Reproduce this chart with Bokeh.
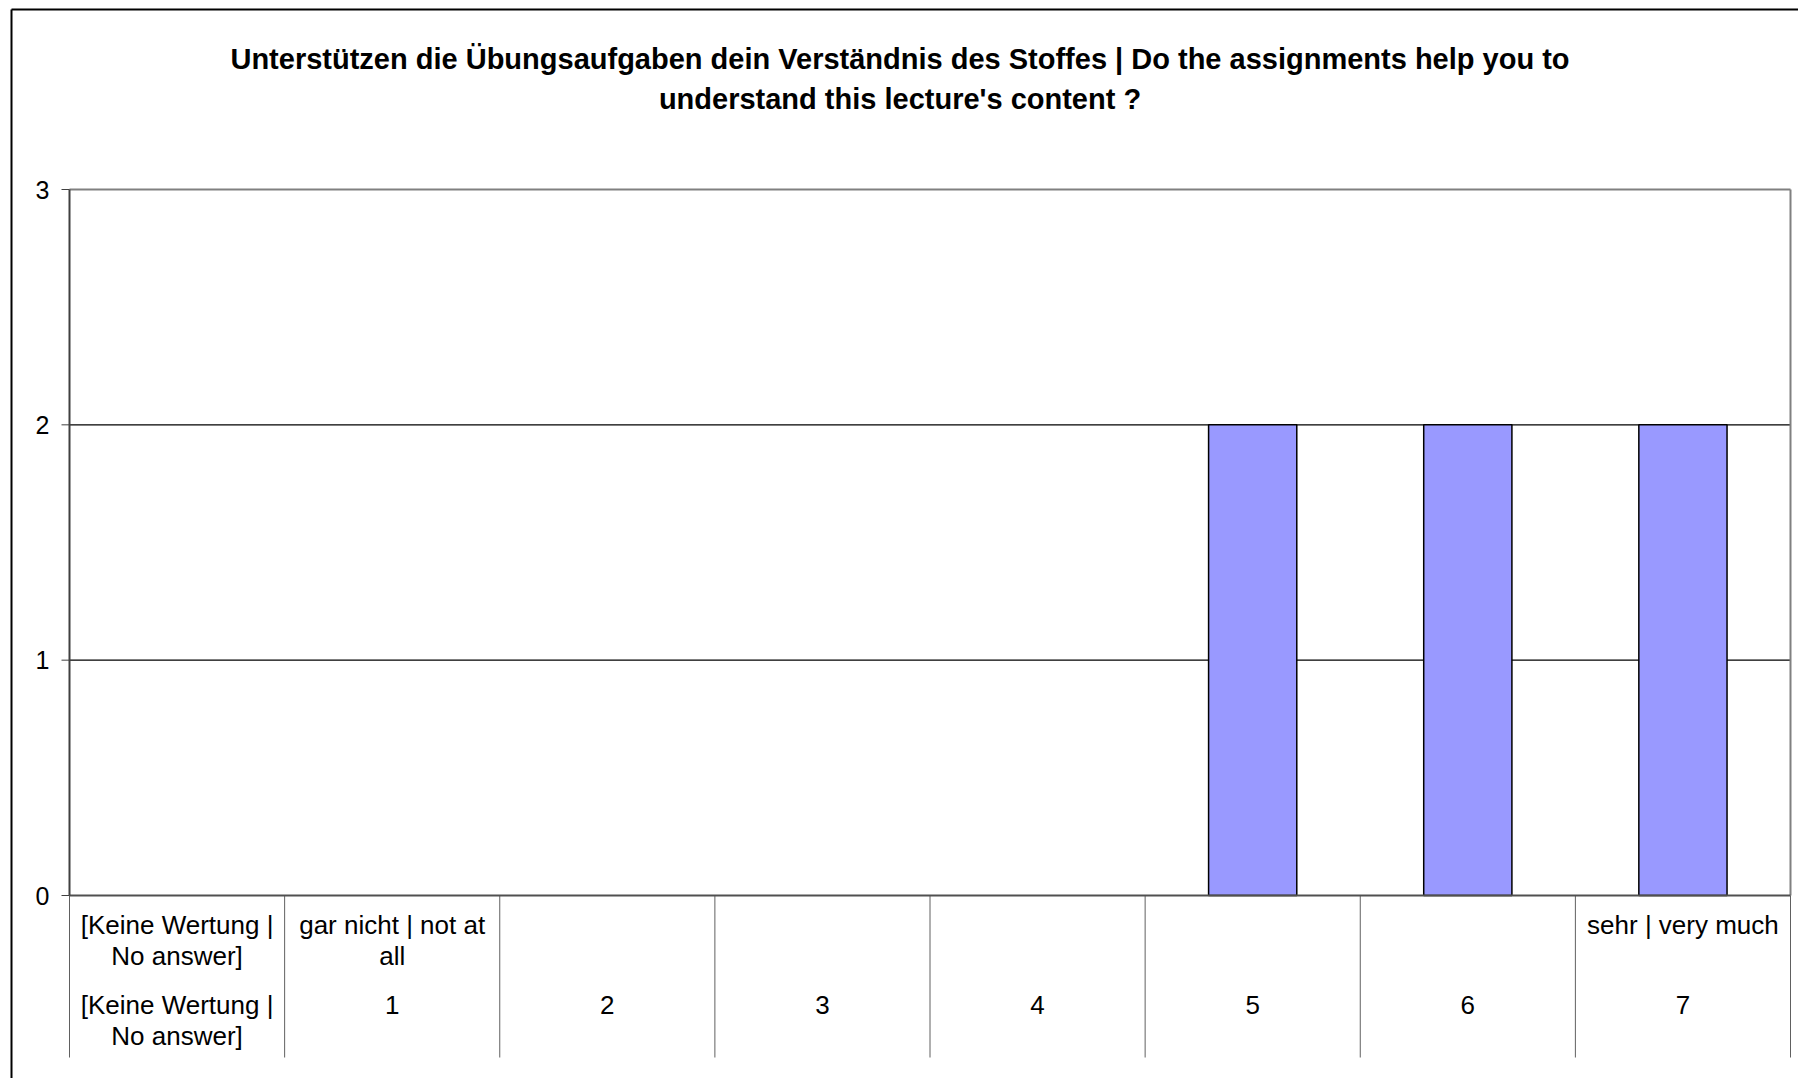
from bokeh.plotting import figure
from bokeh.models import Range1d
from bokeh.core.properties import value
from bokeh.embed import file_html
from bokeh.resources import INLINE

# ---- data ----
title_lines = [
    "Unterstützen die Übungsaufgaben dein Verständnis des Stoffes | Do the assignments help you to",
    "understand this lecture's content ?",
]
categories = ["[Keine Wertung | No answer]", "1", "2", "3", "4", "5", "6", "7"]
counts = [0, 0, 0, 0, 0, 2, 2, 2]
scale_labels = ["[Keine Wertung |\nNo answer]", "gar nicht | not at\nall", "", "", "", "", "", "sehr | very much"]
value_labels = ["[Keine Wertung |\nNo answer]", "1", "2", "3", "4", "5", "6", "7"]
y_ticks = [0, 1, 2, 3]

# ---- layout (canvas pixels) ----
W, H = 1798, 1078
PL, PR = 69, 1790        # plot area left / right
PT, P0 = 189, 895        # pixel of y max / y = 0
YMAX = 3
N = len(categories)
ppu_x = (PR - PL) / N
ppu_y = (P0 - PT) / YMAX


def X(c):
    return (c - PL) / ppu_x


def Y(c):
    return YMAX - (c - PT) / ppu_y


FONT = value("Liberation Sans")

p = figure(width=W, height=H, output_backend="svg", toolbar_location=None,
           x_range=Range1d(X(0), X(W)), y_range=Range1d(Y(H), Y(0)),
           x_axis_location=None, y_axis_location=None,
           min_border=0, min_border_left=0, min_border_right=0,
           min_border_top=0, min_border_bottom=0, tools="")
p.outline_line_color = None
p.grid.visible = False
p.background_fill_color = "white"
p.border_fill_color = "white"

# outer chart frame (left and top edges; right / bottom lie outside the window)
p.segment(x0=[X(11), X(11)], x1=[X(11), X(W + 20)], y0=[Y(9), Y(9)], y1=[Y(H + 20), Y(9)],
          line_color="black", line_width=2)

# title
p.text(x=[X(899.5)] * len(title_lines), y=[Y(58 + 40 * k) for k in range(len(title_lines))],
       text=title_lines, text_font=FONT, text_font_size="29px", text_font_style="bold",
       text_align="center", text_baseline="middle", text_color="black")

# gridlines
inner = [t for t in y_ticks if 0 < t < YMAX]
p.segment(x0=[0] * len(inner), x1=[N] * len(inner), y0=inner, y1=inner, line_color="black", line_width=1.2)
# top line & right border of plot area
p.segment(x0=[0, N], x1=[N, N], y0=[YMAX, 0], y1=[YMAX, YMAX], line_color="#808080", line_width=2)

# bars
xs = [i + 0.5 for i in range(N)]
bx = [x for x, c in zip(xs, counts) if c > 0]
bt = [c for c in counts if c > 0]
p.vbar(x=bx, top=bt, bottom=0, width=0.41, fill_color="#9999FF", line_color="black", line_width=1.5)

# category separators
sep_bottom = Y(1057)
seps = list(range(N + 1))
p.segment(x0=seps, x1=seps, y0=[0] * len(seps), y1=[sep_bottom] * len(seps),
          line_color="#606060", line_width=1)

# x axis line
p.segment(x0=[0], x1=[N], y0=[0], y1=[0], line_color="#505050", line_width=2)

# y axis line, ticks, labels
p.segment(x0=[0], x1=[0], y0=[0], y1=[YMAX], line_color="#404040", line_width=2)
p.segment(x0=[X(61)] * len(y_ticks), x1=[0] * len(y_ticks), y0=y_ticks, y1=y_ticks,
          line_color="#404040", line_width=1)
p.text(x=[X(49)] * len(y_ticks), y=y_ticks, text=[str(t) for t in y_ticks],
       text_font=FONT, text_font_size="25px", text_align="right", text_baseline="middle",
       text_color="black")


# category labels (two rows)
def draw_row(labels, first_line_px, spacing_px):
    tx, ty, tt = [], [], []
    for x, lab in zip(xs, labels):
        for k, line in enumerate(lab.split("\n")):
            if line:
                tx.append(x)
                ty.append(Y(first_line_px + k * spacing_px))
                tt.append(line)
    p.text(x=tx, y=ty, text=tt, text_font=FONT, text_font_size="26px",
           text_align="center", text_baseline="middle", text_color="black")


draw_row(scale_labels, 924, 31)
draw_row(value_labels, 1004, 31)

open("out.html", "w").write(file_html(p, INLINE))
